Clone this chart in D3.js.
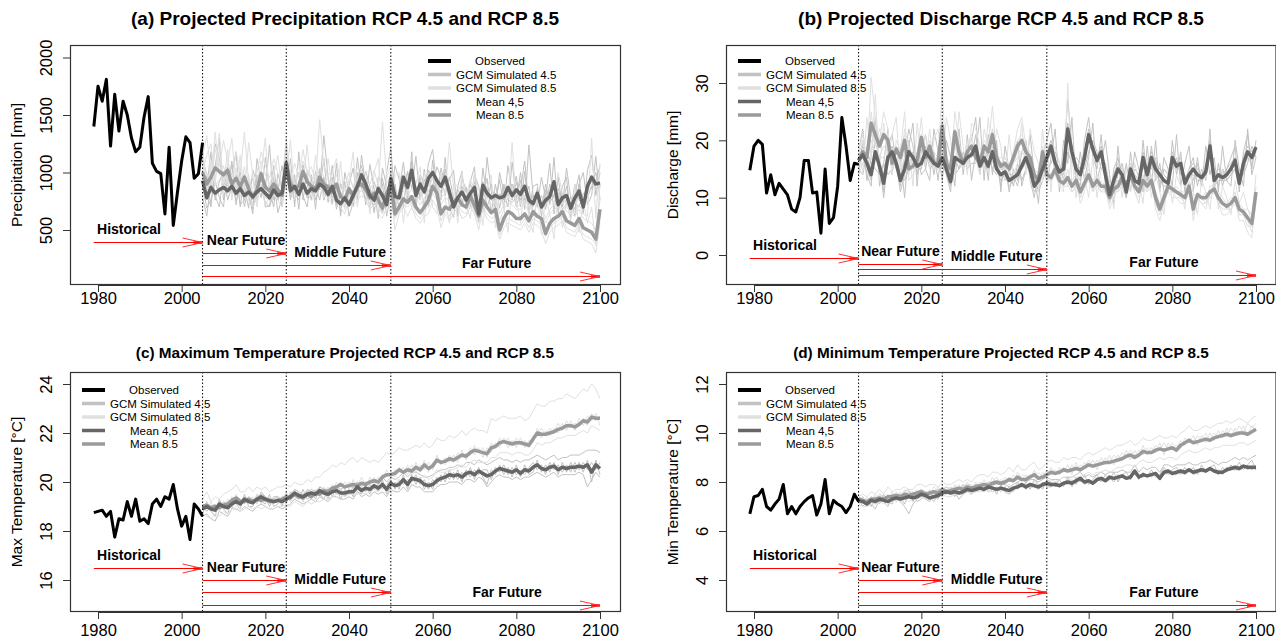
<!DOCTYPE html>
<html><head><meta charset="utf-8">
<script src="https://cdn.jsdelivr.net/npm/d3@7"></script>
<style>body{margin:0;background:#fff}svg{display:block}text{font-family:"Liberation Sans",Arial,sans-serif;fill:#000}</style>
</head><body><svg id="c" width="1276" height="642"></svg>
<script>
const obsYears = d3.range(1979, 2006);
const projYears = d3.range(2005, 2101);
const xTicks = [1980, 2000, 2020, 2040, 2060, 2080, 2100];
const periodBreaks = [2005, 2025, 2050];
const legendLabels = ["Observed", "GCM Simulated 4.5", "GCM Simulated 8.5", "Mean 4,5", "Mean 8.5"];
const periodLabels = ["Historical", "Near Future", "Middle Future", "Far Future"];
const periodStarts = [1979, 2005, 2005, 2005];
const periodEnds = [2005, 2025, 2050, 2100];

// ---------- (a) Precipitation [mm] ----------
const precipObs = [1400,1750,1620,1810,1230,1680,1360,1620,1500,1300,1180,1220,1480,1660,1080,1010,990,640,1220,540,830,1100,1310,1260,950,990,1260];
const precipMean45 = [930,780,870,820,850,870,840,880,820,860, 800,830,790,830,860,820,780,850,800,820, 1080,840,880,810,900,820,860,840,900,870, 810,880,760,730,780,720,800,880,980,900, 800,760,860,800,720,950,790,780,960,870, 1020,800,900,830,950,1000,930,880,960,830, 700,780,830,760,820,870,640,890,820,780, 800,780,790,870,800,850,810,880,760,730, 820,700,760,790,920,720,780,800,690,780, 840,700,880,960,900,910];
const precipMean85 = [1000,900,960,1040,1010,980,1020,900,950,880, 960,860,780,850,990,870,840,900,850,800, 1090,900,860,880,1010,920,880,860,960,900, 870,830,900,790,760,860,800,880,900,850, 780,820,760,690,820,900,640,700,770,740, 790,700,650,700,760,880,820,640,700,680, 740,780,720,700,800,710,620,760,700,650, 680,500,600,660,640,600,600,640,580,660, 620,600,470,560,600,620,660,580,560,540, 600,520,500,480,420,680];
const precipSim45_1 = [1050,870,1180,760,920,1010,830,1100,720,950, 880,690,1020,910,780,1130,850,700,990,860, 1250,790,980,680,1070,900,760,1010,850,1120, 740,960,680,830,700,890,1040,760,1150,880, 690,920,810,640,1000,1220,720,850,1090,780, 1180,700,950,820,1080,1200,870,760,1130,690, 610,880,1010,700,920,1050,560,1040,780,900, 730,940,690,1060,820,970,700,1010,640,880, 900,620,850,720,1130,650,880,960,600,820, 980,640,1020,1150,800,1000];
const precipSim45_2 = [880,690,760,930,780,700,1050,820,980,720, 760,940,680,820,1010,700,710,960,650,780, 960,900,750,920,800,700,980,680,1040,760, 900,780,850,650,920,620,740,1000,870,1010, 880,650,960,900,620,820,900,680,880,1000, 920,880,780,940,830,880,1050,960,800,960, 780,680,720,870,700,760,720,800,950,640, 900,690,880,760,740,780,930,760,880,620, 740,800,680,900,780,820,680,720,790,730, 700,820,780,880,1000,870];
const precipSim45_3 = [1000,960,820,1250,1130,890,940,1060,800,1020, 700,880,950,760,880,920,800,1060,760,870, 1120,760,930,1000,860,980,820,880,760,960, 780,1060,720,900,780,700,850,830,1000,720, 860,770,720,950,770,900,660,820,930,760, 1090,760,880,700,1020,950,840,980,920,880, 700,860,760,680,900,820,740,920,700,820, 820,760,900,800,900,700,850,1100,720,800, 780,680,900,740,800,860,720,880,680,900, 760,720,900,860,920,1060];
const precipSim45_4 = [780,620,920,800,700,1000,760,880,760,820, 860,780,710,980,850,740,700,820,900,700, 1000,880,820,760,920,780,900,920,1010,800, 820,830,780,700,790,760,700,960,1060,880, 760,720,900,780,700,1020,820,760,960,880, 1100,760,980,900,880,1000,920,820,1030,780, 720,760,880,780,820,920,680,840,880,760, 760,820,760,880,760,920,760,800,720,700, 860,720,700,820,900,700,820,720,740,680, 900,660,880,920,860,880];
const precipSim45_5 = [1120,980,700,1050,1300,760,920,990,1180,700, 980,820,640,1120,930,860,1240,760,840,1060, 860,1120,700,1180,760,1010,940,760,870,1320, 960,720,1080,620,1000,840,700,1130,860,760, 1070,860,600,1040,880,760,1060,940,700,1010, 860,1140,760,1030,700,1110,780,1040,880,940, 1020,620,940,860,720,980,880,660,1130,840, 680,1000,830,700,1090,760,1000,680,1240,800, 700,960,780,1080,640,960,700,1040,780,620, 900,1000,720,800,1140,760];
const precipSim85_1 = [1150,1320,980,1200,1050,1280,1100,880,1180,1000, 1350,920,860,1000,1180,1060,950,1120,1000,900, 1300,950,1080,960,1200,1000,1050,920,1460,1060, 980,1010,1120,900,880,1000,860,1050,1020,920, 900,1020,880,1440,950,1060,760,820,900,940, 980,820,760,1000,880,1020,960,780,820,1260, 860,900,820,800,940,840,760,880,820,760, 800,640,720,780,1260,700,720,800,700,780, 760,700,600,680,720,1000,820,700,660,640, 720,640,620,1300,600,1080];
const precipSim85_2 = [1250,820,1100,880,940,900,1200,760,1040,820, 1050,760,700,780,900,720,780,820,760,700, 1020,820,760,840,900,820,760,790,880,800, 780,720,820,700,640,780,700,760,800,760, 680,720,640,600,700,820,500,640,700,620, 700,600,560,620,640,760,700,520,640,580, 640,700,600,620,700,640,500,680,600,560, 580,420,520,560,540,520,500,560,480,560, 540,500,380,480,520,540,580,480,460,440, 520,420,400,380,300,560];
const precipSim85_3 = [900,1000,860,1350,980,1060,880,1000,860,940, 880,980,820,900,1100,980,900,1000,900,860, 1180,1000,940,960,1100,1020,960,940,1040,960, 940,900,980,860,840,940,880,960,980,920, 860,900,820,760,900,980,700,780,840,800, 860,780,720,780,840,960,900,720,780,760, 820,860,800,780,880,780,700,840,780,720, 760,580,680,740,720,680,680,720,660,740, 700,680,560,640,680,700,740,660,640,620, 680,600,580,560,500,760];
const precipSim85_4 = [1100,760,1000,900,1200,840,980,860,900,780, 920,800,720,760,880,780,760,800,820,740, 1000,840,800,820,940,860,820,800,900,860, 820,780,840,720,700,800,740,820,840,800, 720,760,700,640,760,860,600,660,720,700, 740,640,600,660,700,820,760,580,660,620, 680,720,660,640,740,660,560,700,640,600, 620,460,560,600,580,560,540,600,520,600, 580,540,440,520,560,580,620,520,500,480, 560,460,440,420,380,620];
const precipSim85_5 = [1000,1150,1250,940,1340,900,1080,1300,880,1150, 820,1260,980,700,1000,1300,760,980,1150,820, 960,1280,820,1100,880,1240,830,1150,900,780, 1120,880,760,1100,680,920,1180,700,960,1000, 640,1000,1120,700,880,600,980,1000,560,880, 700,900,1050,560,1000,700,640,1000,780,560, 900,560,1000,720,600,1000,800,540,860,980, 520,820,700,480,880,760,560,900,600,480, 800,460,780,640,420,840,520,760,580,900, 480,760,560,700,360,900];

// ---------- (b) Discharge [mm] ----------
const dischObs = [14.8,19,20,19.3,10.8,14,10.5,12.5,11.5,10.5,8,7.5,10,16.5,16.5,10.8,11,3.8,15,5.5,6.5,12,24,19,13,16,15.8];
const dischMean45 = [16.5,17.5,16,14,18,15.5,12.5,17,18,16, 13,15,18,17,15.5,16,18,17,16,15.5, 17,15,12.8,17,16.5,16,17,17.5,19,15.5, 17,15.5,18,15,14,14.5,13,13.5,14,15.5, 17,15,12,13,15,17,19,16,14.5,15, 22,18,15,14,17,21,18.5,16.5,18,14, 10.5,13,15,14,11,15,13,12.5,17,14, 17,15,14,13,12.5,17,15.5,16,12.5,14, 15,14,13.5,14.5,19,13,14,13.5,14,15, 16.5,12.5,16,18,17,18.8];
const dischMean85 = [16.5,18,17,23,21,19,21,20,16,18.5, 17,20,15,15.5,16.5,20.5,17,19,16,16, 22.5,16,15,21.5,18,16,18,19,17,16, 19,18,21,17,15.5,16,15,17,19,20, 18,17,14,13,18,14,13.5,15,13,12.5, 13.5,12,13,11,12.5,14,12,13,12,12, 10,11.5,12,13.5,12,14,12,11,13,12, 13,10,8,10,12,11.5,11,10.5,10,12, 8,10.5,10,10,11,11.5,10,9,8.5,9, 10,8,7.5,6.5,5.5,11];
const dischSim45_1 = [18,22,15,13,20,17,11,19,21,16, 12,17,22,19,14,18,21,16,18,13, 20,14,11,21,18,15,19,20,24,14, 19,13,22,16,12,16,11,15,13,18, 20,13,10,15,17,20,23,15,13,17, 27,19,13,12,20,24,17,15,21,12, 9,15,17,12,10,18,12,11,20,13, 19,13,16,11,11,20,14,18,11,15, 17,12,15,13,22,11,16,12,15,17, 19,11,18,21,15,20];
const dischSim45_2 = [15,14,18,16,15,14,16,14,15,17, 14,13,15,16,18,14,15,19,14,18, 15,17,15,14,15,18,15,16,16,17, 15,18,15,14,16,13,15,12,16,13, 15,17,14,11,13,15,16,18,16,13, 18,16,17,16,15,18,20,18,15,16, 12,11,14,16,12,13,15,14,15,16, 15,17,12,15,14,15,17,14,14,12, 13,16,12,16,17,15,12,15,13,14, 15,14,14,16,19,17];
const dischSim45_3 = [17,19,14,12,21,16,14,18,17,15, 15,16,20,15,16,17,16,18,17,15, 18,16,14,16,18,15,18,17,21,16, 18,16,19,15,15,15,14,14,12,16, 18,16,13,14,16,18,20,17,13,16, 23,18,16,15,18,22,19,17,19,15, 11,14,16,15,12,16,14,13,18,15, 18,16,15,14,13,18,16,17,13,15, 16,15,14,15,20,14,15,14,15,16, 17,13,17,19,18,19];
const dischSim45_4 = [16,17,17,15,17,16,10,17,19,16, 11,14,17,18,15,15,19,15,16,16, 16,14,12,17,15,16,16,18,17,15, 16,15,17,15,13,14,12,13,15,15, 16,14,11,12,14,16,18,15,15,14, 21,19,14,13,16,21,18,16,18,13, 10,12,13,13,10,14,12,12,16,12, 16,14,13,12,12,16,15,15,12,14, 14,13,13,14,18,12,13,13,13,14, 15,12,15,17,16,18];
const dischSim45_5 = [14,20,13,17,24,12,16,22,14,19, 17,10,19,23,12,21,15,13,22,18, 13,20,17,12,22,14,21,13,18,24, 13,21,14,20,11,19,15,17,20,12, 15,21,14,9,18,12,17,22,11,20, 16,24,12,18,13,17,23,13,16,20, 14,9,19,12,16,11,18,15,11,19, 12,20,11,17,15,12,21,12,16,19, 11,17,12,19,14,17,11,19,13,12, 20,15,12,22,14,17];
const dischSim85_1 = [18,21,16,31,24,20,25,22,14,20, 18,25,13,14,17,24,16,22,15,17, 29,15,13,25,20,15,19,21,17,14, 22,19,26,17,14,15,14,18,22,24, 19,18,12,11,22,14,13,16,12,11, 30,12,13,9,11,16,11,14,11,12, 8,10,12,15,11,16,11,9,14,11, 14,8,6,9,13,11,10,9,9,13, 6,10,9,8,11,12,9,7,7,8, 10,6,6,4,3,10];
const dischSim85_2 = [15,16,19,20,18,17,19,18,17,17, 16,18,16,16,16,19,18,17,17,15, 20,17,16,19,17,17,17,18,18,17, 17,17,19,17,17,17,16,16,18,18, 17,16,15,14,16,15,14,14,14,13, 13,13,14,12,13,13,13,12,13,12, 11,12,13,12,13,13,12,12,12,12, 12,11,9,11,11,11,12,11,11,11, 9,11,10,11,10,11,11,10,9,10, 10,9,8,8,7,10];
const dischSim85_3 = [17,20,15,25,19,22,20,21,18,16, 19,21,17,15,18,21,16,20,18,17, 24,17,16,22,19,16,20,20,16,17, 20,19,22,16,16,17,15,18,20,21, 19,17,14,12,19,15,14,15,13,12, 15,11,12,10,13,15,13,14,12,11, 9,12,11,14,12,15,12,11,14,12, 13,9,7,10,12,12,11,11,10,12, 7,11,10,9,12,12,10,9,8,9, 11,7,7,5,5,12];
const dischSim85_4 = [14,16,18,21,20,17,17,19,15,19, 15,17,14,17,15,18,17,17,15,15, 21,15,14,20,16,16,16,18,17,15, 18,17,20,16,15,15,14,16,17,18, 17,16,13,12,16,13,13,14,12,12, 12,11,12,10,12,13,11,12,11,11, 9,11,11,12,11,13,11,10,12,11, 12,9,8,9,11,10,10,10,9,11, 8,10,9,9,10,11,9,8,8,8, 9,7,7,6,4,9];
const dischSim85_5 = [20,14,24,17,28,15,23,17,21,24, 14,22,19,12,23,16,21,15,20,22, 16,24,20,14,25,19,14,23,22,19, 15,24,16,22,19,13,21,14,16,23, 14,22,18,16,13,20,11,19,16,15, 12,17,10,15,14,10,17,10,15,14, 13,8,16,10,15,11,16,13,9,17, 10,14,11,7,15,9,14,12,8,15, 11,7,13,11,8,14,8,12,10,7, 13,9,11,8,6,14];

// ---------- (c) Max temperature [°C] ----------
const tmaxObs = [18.75,18.8,18.85,18.6,18.8,17.75,18.5,18.45,19.2,18.6,19.3,18.4,18.5,18.3,19.1,19.3,19.0,19.4,19.3,19.9,18.9,18.2,18.6,17.65,19.1,18.9,18.6];
const tmaxMean45 = [18.9,19.0,18.9,18.85,19.1,19.0,18.95,19.1,19.2,19.1, 19.3,19.2,19.15,19.3,19.4,19.3,19.25,19.2,19.25,19.2, 19.3,19.4,19.55,19.45,19.4,19.5,19.55,19.5,19.65,19.55, 19.5,19.6,19.65,19.55,19.55,19.6,19.6,19.8,19.65,19.75, 19.7,19.85,19.75,19.9,19.7,19.95,19.85,19.9,20.1,19.9, 20.15,20.1,20.05,19.9,19.85,19.9,20.05,20.15,20.2,20.3, 20.25,20.3,20.2,20.35,20.4,20.3,20.45,20.35,20.25,20.3, 20.45,20.55,20.5,20.45,20.4,20.5,20.35,20.5,20.45,20.6, 20.7,20.55,20.5,20.6,20.65,20.5,20.6,20.55,20.6,20.6, 20.65,20.6,20.7,20.4,20.7,20.55];
const tmaxMean85 = [19.0,19.05,18.95,19.0,18.95,19.05,19.1,19.25,19.35,19.2, 19.2,19.3,19.2,19.3,19.25,19.3,19.2,19.2,19.25,19.3, 19.4,19.35,19.5,19.4,19.35,19.5,19.4,19.55,19.5,19.65, 19.6,19.75,19.8,19.9,19.8,19.85,19.9,19.85,19.95,19.9, 20.0,20.05,20.0,20.2,20.3,20.3,20.35,20.5,20.4,20.5, 20.45,20.6,20.5,20.7,20.55,20.65,20.9,20.8,20.85,20.95, 20.9,21.0,21.1,21.05,21.2,21.3,21.25,21.2,21.15,21.4, 21.45,21.6,21.65,21.6,21.55,21.6,21.6,21.55,21.5,21.75, 22.0,21.95,21.95,22.0,22.05,22.15,22.2,22.3,22.3,22.25, 22.35,22.5,22.45,22.65,22.6,22.6];
const tmaxSim45_1 = [18.7,19.2,18.8,18.6,19.3,18.9,18.7,19.3,19.1,18.9, 19.5,19.0,19.0,19.5,19.2,19.1,19.5,19.0,19.1,19.4, 19.1,19.6,19.4,19.3,19.7,19.3,19.4,19.7,19.5,19.3, 19.7,19.4,19.8,19.3,19.7,19.5,19.8,19.6,19.5,19.9, 19.5,19.9,19.6,20.1,19.5,19.8,20.0,19.7,20.3,19.7, 20.3,19.9,20.2,19.7,20.0,19.7,20.2,20.0,20.4,20.1, 20.4,20.1,20.4,20.2,20.6,20.1,20.6,20.2,19.9,20.5, 20.3,20.7,20.3,20.6,20.2,20.7,20.2,20.7,20.3,20.4, 20.9,20.4,20.7,20.4,20.8,20.3,20.8,20.4,20.8,20.4, 20.8,20.4,20.9,20.0,20.9,20.3];
const tmaxSim45_2 = [19.1,18.8,19.0,19.1,18.9,19.2,19.1,18.9,19.4,19.3, 19.1,19.4,19.3,19.1,19.6,19.4,19.0,19.4,19.4,19.0, 19.5,19.2,19.7,19.6,19.2,19.7,19.6,19.3,19.8,19.7, 19.3,19.8,19.5,19.7,19.4,19.7,19.4,20.0,19.8,19.6, 19.9,19.7,19.9,19.7,19.9,20.1,19.7,20.1,19.9,20.1, 20.0,20.3,19.9,20.1,19.7,20.1,19.9,20.3,20.0,20.5, 20.1,20.5,20.0,20.5,20.2,20.5,20.3,20.5,20.5,20.1, 20.6,20.4,20.7,20.3,20.6,20.3,20.5,20.3,20.6,20.8, 20.5,20.7,20.3,20.8,20.5,20.7,20.4,20.7,20.4,20.8, 20.5,20.8,20.5,20.8,20.5,20.8];
const tmaxSim45_3 = [19.0,19.1,19.0,18.9,19.2,19.1,19.0,19.2,19.3,19.2, 19.4,19.3,19.2,19.4,19.5,19.4,19.3,19.3,19.4,19.3, 19.4,19.5,19.7,19.6,19.5,19.6,19.7,19.6,19.8,19.7, 19.7,19.8,19.8,19.7,19.8,19.8,19.8,20.0,19.9,20.0, 20.0,20.1,20.0,20.2,20.0,20.2,20.1,20.2,20.4,20.2, 20.4,20.4,20.3,20.2,20.2,20.3,20.4,20.5,20.5,20.6, 20.6,20.7,20.6,20.8,20.8,20.7,20.9,20.8,20.7,20.8, 20.9,21.0,20.9,20.9,20.8,20.9,20.8,20.9,20.9,21.0, 21.1,21.0,20.9,21.0,21.1,20.9,21.0,21.0,21.1,21.1, 21.1,21.2,21.3,21.3,21.3,21.2];
const tmaxSim45_4 = [18.6,18.7,18.5,18.4,18.8,18.7,18.6,18.9,18.9,18.8, 19.0,18.9,18.8,19.0,19.1,19.0,18.9,18.9,19.0,18.9, 19.0,19.1,19.3,19.2,19.1,19.2,19.3,19.2,19.4,19.3, 19.2,19.4,19.4,19.3,19.3,19.4,19.3,19.6,19.4,19.5, 19.4,19.6,19.5,19.6,19.4,19.7,19.6,19.6,19.8,19.6, 19.9,19.8,19.8,19.6,19.6,19.6,19.8,19.9,19.9,20.0, 20.0,20.0,19.9,20.1,20.1,20.0,20.2,20.1,19.8,20.0, 20.2,20.3,20.2,20.2,20.1,20.2,20.1,20.2,20.2,20.3, 20.4,20.3,20.2,20.3,20.4,20.2,20.3,20.3,20.3,20.3, 20.4,20.3,19.8,20.1,20.4,20.2];
const tmaxSim85_1 = [19.3,19.6,19.2,19.4,19.3,19.5,19.6,19.7,19.9,19.6, 19.6,19.8,19.6,19.8,19.7,19.8,19.6,19.7,19.8,19.8, 19.9,19.8,20.0,19.9,19.9,20.1,20.0,20.2,20.2,20.4, 20.5,20.7,20.6,20.8,20.7,20.9,21.0,20.8,21.0,20.9, 20.8,20.9,20.8,21.0,21.2,21.1,21.2,21.4,21.3,21.3, 21.4,21.5,21.4,21.6,21.4,21.5,21.8,21.7,21.7,21.9, 21.8,21.9,22.1,21.9,22.1,22.2,22.1,22.1,22.0,22.6, 22.5,22.6,22.7,22.6,22.6,22.6,22.7,22.5,22.6,22.9, 23.2,23.1,23.1,23.3,23.3,23.4,23.4,23.6,23.5,23.4, 23.6,23.8,23.7,24.0,23.8,23.4];
const tmaxSim85_2 = [18.7,18.6,18.5,18.7,18.6,18.8,18.7,18.9,19.0,18.8, 18.9,19.0,18.9,19.0,18.9,19.0,18.9,18.9,19.0,19.0, 19.1,19.0,19.2,19.1,19.0,19.2,19.1,19.2,19.2,19.3, 19.3,19.4,19.5,19.5,19.4,19.5,19.5,19.5,19.6,19.5, 19.6,19.7,19.6,19.8,19.9,19.9,19.9,20.1,20.0,20.1, 20.0,20.2,20.1,20.3,20.1,20.2,20.5,20.4,20.4,20.5, 20.5,20.6,20.7,20.6,20.8,20.9,20.8,20.8,20.8,21.0, 21.0,21.2,21.2,21.2,21.1,21.2,21.2,21.1,21.1,21.3, 21.6,21.5,21.6,21.6,21.7,21.8,21.8,21.9,21.9,21.9, 22.0,22.1,22.0,22.3,22.2,22.1];
const tmaxSim85_3 = [19.1,18.9,19.2,18.8,19.1,18.9,19.3,19.1,19.5,19.1, 19.4,19.2,19.4,19.1,19.4,19.2,19.4,19.1,19.4,19.2, 19.6,19.2,19.7,19.3,19.5,19.4,19.6,19.4,19.7,19.5, 19.8,19.6,20.0,19.8,20.0,19.7,20.1,19.8,20.2,19.8, 20.2,19.9,20.2,20.1,20.5,20.2,20.5,20.4,20.6,20.3, 20.7,20.4,20.7,20.5,20.8,20.5,21.1,20.7,21.0,20.8, 21.1,20.8,21.3,20.9,21.4,21.1,21.4,21.0,21.4,21.2, 21.6,21.4,21.8,21.4,21.7,21.4,21.8,21.4,21.7,21.6, 22.2,21.8,22.1,21.9,22.2,22.0,22.4,22.1,22.5,22.1, 22.6,22.3,22.7,22.5,22.8,22.3];
const tmaxSim85_4 = [18.9,19.2,18.8,19.1,18.8,19.2,18.9,19.4,19.2,19.3, 19.1,19.4,19.1,19.5,19.1,19.4,19.1,19.3,19.1,19.4, 19.3,19.5,19.3,19.6,19.2,19.6,19.3,19.7,19.4,19.8, 19.5,19.9,19.7,20.0,19.7,20.0,19.8,19.9,19.8,20.0, 19.9,20.2,19.9,20.3,20.2,20.4,20.2,20.6,20.3,20.7, 20.3,20.8,20.4,20.9,20.4,20.8,20.8,20.9,20.7,21.1, 20.8,21.2,21.0,21.2,21.1,21.5,21.2,21.4,21.0,21.6, 21.4,21.8,21.6,21.8,21.5,21.8,21.5,21.7,21.4,21.9, 21.9,22.2,21.9,22.2,22.0,22.4,22.1,22.5,22.2,22.4, 22.3,22.6,22.3,22.8,22.5,22.7];

// ---------- (d) Min temperature [°C] ----------
const tminObs = [6.7,7.4,7.45,7.7,7.0,6.85,7.1,7.3,7.9,6.7,7.0,6.7,7.0,7.2,7.35,7.45,6.65,7.1,8.1,6.7,7.25,7.1,7.0,6.75,7.0,7.5,7.2];
const tminMean45 = [7.25,7.2,7.1,7.25,7.2,7.3,7.25,7.2,7.3,7.35, 7.3,7.35,7.4,7.35,7.4,7.5,7.45,7.35,7.4,7.45, 7.55,7.6,7.55,7.6,7.55,7.6,7.7,7.65,7.7,7.75, 7.7,7.8,7.75,7.7,7.75,7.7,7.65,7.75,7.8,7.9, 7.8,7.9,7.85,7.8,7.9,7.95,7.9,7.9,7.85,7.95, 8.0,7.95,8.05,8.15,8.0,8.05,7.95,8.1,8.15,8.05, 8.2,8.15,8.2,8.25,8.15,8.2,8.45,8.2,8.3,8.25, 8.3,8.35,8.15,8.4,8.45,8.35,8.4,8.45,8.4,8.5, 8.4,8.45,8.5,8.45,8.55,8.45,8.4,8.4,8.5,8.55, 8.6,8.55,8.65,8.6,8.6,8.6];
const tminMean85 = [7.3,7.25,7.2,7.3,7.3,7.35,7.3,7.4,7.4,7.45, 7.4,7.5,7.45,7.5,7.55,7.6,7.5,7.55,7.6,7.55, 7.7,7.6,7.65,7.7,7.75,7.7,7.8,7.75,7.8,7.85, 7.9,7.85,7.95,8.0,7.95,8.0,8.1,8.05,8.2,8.1, 8.1,8.2,8.3,8.15,8.2,8.3,8.4,8.35,8.4,8.5, 8.45,8.5,8.55,8.5,8.6,8.7,8.65,8.7,8.75,8.8, 8.8,8.85,8.9,8.95,9.05,9.1,9.0,9.1,9.25,9.2, 9.2,9.3,9.35,9.3,9.35,9.4,9.3,9.5,9.6,9.7, 9.6,9.65,9.7,9.75,9.7,9.8,9.85,9.9,9.95,9.9, 9.95,10.0,10.0,9.95,10.05,10.15];
const tminSim45_1 = [7.1,7.4,7.0,7.3,7.4,7.1,7.5,7.2,7.1,7.5, 7.3,7.6,7.7,7.2,7.5,7.6,7.3,7.2,7.6,7.3, 7.7,7.5,7.8,7.4,7.7,7.9,7.6,7.5,7.9,7.7, 7.6,8.0,7.9,7.5,7.9,7.6,7.8,7.6,8.0,7.8, 8.0,7.7,8.1,7.9,7.7,8.1,8.0,7.8,8.1,7.8, 8.2,7.8,8.2,8.0,8.3,7.9,8.1,8.3,8.0,8.3, 8.1,8.4,8.0,8.3,8.4,8.1,8.5,8.1,8.4,8.2, 8.5,8.2,8.3,8.6,8.3,8.5,8.6,8.3,8.6,8.4, 8.6,8.3,8.7,8.4,8.6,8.7,8.3,8.6,8.4,8.7, 8.5,8.8,8.5,8.7,8.9,8.5];
const tminSim45_2 = [7.3,7.0,7.2,7.1,6.9,7.3,7.2,7.0,7.4,7.2, 7.4,7.1,7.5,7.4,7.2,7.3,7.6,7.4,7.2,7.5, 7.4,7.7,7.5,7.6,7.3,7.5,7.7,7.8,7.6,7.7, 7.8,7.6,7.7,7.8,7.6,7.8,7.6,7.8,7.7,7.9, 7.7,7.9,7.8,7.7,8.0,7.8,7.8,8.0,7.9,8.0, 7.9,8.1,7.9,8.2,8.0,8.1,7.9,8.0,8.2,8.0, 8.2,8.0,8.3,8.2,8.1,8.3,8.3,8.2,8.2,8.3, 8.2,8.4,8.2,8.3,8.5,8.3,8.3,8.5,8.3,8.5, 8.4,8.5,8.4,8.5,8.5,8.4,8.5,8.3,8.6,8.5, 8.6,8.5,8.7,8.5,8.6,8.5];
const tminSim45_3 = [7.2,7.3,7.2,7.0,7.3,7.2,7.4,7.3,7.5,7.3, 7.2,7.0,6.7,7.1,7.3,7.4,7.3,7.5,7.4,7.3, 7.6,7.5,7.7,7.6,7.5,7.6,7.6,7.7,7.6,7.8, 7.7,7.7,7.6,7.7,7.8,7.6,7.5,7.7,7.8,7.8, 7.9,7.8,7.8,7.9,7.8,7.9,7.8,7.9,7.8,7.9, 8.0,8.0,8.1,8.1,7.9,8.0,8.0,8.1,8.1,8.0, 8.1,8.2,8.1,8.2,8.2,8.1,8.4,8.2,8.3,8.2, 8.3,8.3,8.1,8.3,8.4,8.3,8.4,8.4,8.3,8.5, 8.3,8.4,8.5,8.4,8.5,8.4,8.3,8.4,8.5,8.5, 8.5,8.5,8.6,8.6,8.5,8.6];
const tminSim45_4 = [7.4,7.3,7.2,7.4,7.3,7.5,7.4,7.3,7.5,7.5, 7.5,7.5,7.6,7.5,7.6,7.7,7.6,7.5,7.6,7.7, 7.7,7.8,7.7,7.8,7.7,7.8,7.9,7.8,7.9,7.9, 7.9,8.0,7.9,7.9,7.9,7.9,7.8,7.9,8.0,8.1, 8.0,8.1,8.1,8.0,8.1,8.2,8.1,8.1,8.1,8.2, 8.2,8.2,8.3,8.4,8.2,8.3,8.2,8.3,8.4,8.3, 8.4,8.4,8.4,8.5,8.4,8.4,8.7,8.4,8.6,8.5, 8.6,8.6,8.4,8.7,8.7,8.6,8.7,8.7,8.7,8.8, 8.7,8.7,8.8,8.8,8.9,8.8,8.7,8.8,8.8,8.9, 9.0,8.9,9.0,8.9,9.0,9.1];
const tminSim85_1 = [7.4,7.5,7.4,7.6,7.5,7.7,7.5,7.8,7.6,7.7, 7.7,7.8,7.7,7.7,7.9,7.9,7.8,7.9,7.9,7.8, 8.0,7.9,7.9,8.0,8.1,8.0,8.1,8.0,8.2,8.3, 8.3,8.2,8.4,8.4,8.3,8.4,8.6,8.4,8.7,8.5, 8.5,8.7,8.8,8.5,8.6,8.8,8.9,8.8,8.8,9.0, 8.9,9.0,9.0,8.9,9.1,9.2,9.1,9.2,9.3,9.4, 9.3,9.4,9.5,9.5,9.6,9.7,9.5,9.6,9.8,9.7, 9.7,9.8,9.9,9.8,9.8,9.9,9.8,10.0,10.1,10.3, 10.1,10.1,10.2,10.3,10.2,10.3,10.4,10.4,10.5,10.4, 10.5,10.6,10.5,10.4,10.6,10.7];
const tminSim85_2 = [7.1,7.0,7.0,7.1,7.1,7.2,7.1,7.2,7.2,7.3, 7.2,7.3,7.2,7.3,7.3,7.4,7.3,7.3,7.4,7.3, 7.5,7.4,7.4,7.5,7.5,7.5,7.6,7.5,7.6,7.6, 7.7,7.6,7.7,7.8,7.7,7.8,7.9,7.8,7.9,7.8, 7.8,7.9,8.0,7.9,7.9,8.0,8.1,8.0,8.1,8.2, 8.1,8.2,8.2,8.2,8.3,8.4,8.3,8.4,8.4,8.5, 8.4,8.5,8.6,8.6,8.7,8.7,8.6,8.8,8.9,8.8, 8.8,8.9,9.0,8.9,9.0,9.0,8.9,9.1,9.2,9.3, 9.2,9.2,9.3,9.4,9.3,9.4,9.4,9.5,9.5,9.5, 9.5,9.6,9.6,9.5,9.6,9.7];
const tminSim85_3 = [7.3,7.1,7.4,7.2,7.5,7.3,7.2,7.5,7.3,7.6, 7.3,7.7,7.4,7.5,7.7,7.5,7.4,7.7,7.5,7.8, 7.6,7.8,7.5,7.9,7.7,7.8,8.0,7.7,8.0,7.8, 8.1,7.8,8.2,7.9,8.1,8.0,8.2,8.0,8.4,8.1, 8.3,8.1,8.5,8.1,8.4,8.2,8.6,8.3,8.6,8.4, 8.7,8.3,8.8,8.4,8.8,8.6,8.9,8.5,9.0,8.7, 9.1,8.7,9.1,8.9,9.3,8.9,9.3,9.0,9.5,9.1, 9.4,9.2,9.6,9.1,9.6,9.3,9.5,9.4,9.8,9.6, 9.9,9.5,9.9,9.6,10.0,9.7,10.1,9.8,10.2,9.8, 10.2,9.9,10.3,9.9,10.3,10.1];
const tminSim85_4 = [7.2,7.4,7.1,7.3,7.2,7.5,7.4,7.3,7.6,7.4, 7.6,7.4,7.6,7.6,7.4,7.7,7.6,7.5,7.8,7.6, 7.8,7.6,7.8,7.7,7.9,7.6,7.9,7.9,7.7,8.0, 7.9,8.0,8.0,8.2,7.9,8.2,8.0,8.3,8.1,8.3, 8.2,8.3,8.2,8.4,8.2,8.5,8.3,8.5,8.3,8.6, 8.4,8.7,8.5,8.7,8.6,8.9,8.6,8.9,8.7,9.0, 8.8,9.1,8.9,9.2,9.0,9.3,9.1,9.3,9.1,9.4, 9.2,9.5,9.3,9.6,9.3,9.6,9.4,9.7,9.5,9.8, 9.6,9.9,9.7,10.0,9.7,10.0,9.8,10.1,9.9,10.2, 10.0,10.3,10.0,10.4,10.2,10.4];

// ---------- panel setup (built from the arrays above) ----------
const panels = [
  {title: "(a) Projected Precipitation RCP 4.5 and RCP 8.5", ylabel: "Precipitation [mm]",
   obs: precipObs, mean45: precipMean45, mean85: precipMean85,
   sim45: [precipSim45_1, precipSim45_2, precipSim45_3, precipSim45_4, precipSim45_5],
   sim85: [precipSim85_1, precipSim85_2, precipSim85_3, precipSim85_4, precipSim85_5],
   yTicks: [500, 1000, 1500, 2000], arrowLevels: [400, 300, 200, 100], labelYears: [1987.4, 2015.4, 2037.9, 2075.3],
   L: {x1980: 98, x2100: 600, left: 70, right: 621, top: 45, bottom: 285, yRef: [500, 230, 2000, 57.5],
       titleX: 345, titleY: 25, titleSize: 19, ylabX: 22, ytickX: 52, xtickY: 298, legX: 428, legY: 61}},
  {title: "(b) Projected Discharge RCP 4.5 and RCP 8.5", ylabel: "Discharge [mm]",
   obs: dischObs, mean45: dischMean45, mean85: dischMean85,
   sim45: [dischSim45_1, dischSim45_2, dischSim45_3, dischSim45_4, dischSim45_5],
   sim85: [dischSim85_1, dischSim85_2, dischSim85_3, dischSim85_4, dischSim85_5],
   yTicks: [0, 10, 20, 30], arrowLevels: [-0.5, -1.5, -2.5, -3.5], labelYears: [1987.4, 2015, 2038, 2078],
   L: {x1980: 754, x2100: 1256, left: 726, right: 1276.5, top: 45, bottom: 285, yRef: [0, 255, 30, 83],
       titleX: 1001, titleY: 25, titleSize: 19, ylabX: 678, ytickX: 708, xtickY: 298, legX: 738, legY: 61}},
  {title: "(c) Maximum Temperature Projected RCP 4.5 and RCP 8.5", ylabel: "Max Temperature [°C]",
   obs: tmaxObs, mean45: tmaxMean45, mean85: tmaxMean85,
   sim45: [tmaxSim45_1, tmaxSim45_2, tmaxSim45_3, tmaxSim45_4],
   sim85: [tmaxSim85_1, tmaxSim85_2, tmaxSim85_3, tmaxSim85_4],
   yTicks: [16, 18, 20, 22, 24], arrowLevels: [16.5, 16, 15.5, 15], labelYears: [1987.4, 2015.4, 2037.9, 2077.8],
   L: {x1980: 98, x2100: 600, left: 70, right: 621, top: 372, bottom: 612, yRef: [16, 580, 24, 384],
       titleX: 345, titleY: 358, titleSize: 15.3, ylabX: 22, ytickX: 52, xtickY: 630, legX: 82, legY: 390}},
  {title: "(d) Minimum Temperature Projected RCP 4.5 and RCP 8.5", ylabel: "Min Temperature [°C]",
   obs: tminObs, mean45: tminMean45, mean85: tminMean85,
   sim45: [tminSim45_1, tminSim45_2, tminSim45_3, tminSim45_4],
   sim85: [tminSim85_1, tminSim85_2, tminSim85_3, tminSim85_4],
   yTicks: [4, 6, 8, 10, 12], arrowLevels: [4.5, 4, 3.5, 3], labelYears: [1987.4, 2015, 2038, 2078],
   L: {x1980: 754, x2100: 1256, left: 726, right: 1276.5, top: 372, bottom: 612, yRef: [4, 580, 12, 384],
       titleX: 1001, titleY: 358, titleSize: 15.3, ylabX: 678, ytickX: 708, xtickY: 630, legX: 738, legY: 390}}
];

const colObs = "#000000", colSim45 = "#c2c2c2", colSim85 = "#e0e0e0", colMean45 = "#666666", colMean85 = "#9a9a9a";

// sanity check of series lengths
panels.forEach(p => {
  if (p.obs.length !== obsYears.length) throw new Error(p.title + " obs length " + p.obs.length);
  [p.mean45, p.mean85, ...p.sim45, ...p.sim85].forEach((s, i) => {
    if (s.length !== projYears.length) throw new Error(p.title + " series " + i + " length " + s.length);
  });
});

const svg = d3.select("#c");
const FONT = '"Liberation Sans",Arial,sans-serif';

panels.forEach(p => {
  const L = p.L;
  const x = d3.scaleLinear().domain([1980, 2100]).range([L.x1980, L.x2100]);
  const y = d3.scaleLinear().domain([L.yRef[0], L.yRef[2]]).range([L.yRef[1], L.yRef[3]]);
  const g = svg.append("g");
  const clipId = "clip" + L.left + "_" + L.top;
  svg.append("clipPath").attr("id", clipId).append("rect")
    .attr("x", L.left).attr("y", L.top).attr("width", L.right - L.left).attr("height", L.bottom - L.top);
  const plot = g.append("g").attr("clip-path", "url(#" + clipId + ")");

  const lineObs = d3.line().x((d, i) => x(obsYears[i])).y(d => y(d));
  const lineProj = d3.line().x((d, i) => x(projYears[i])).y(d => y(d));

  p.sim45.forEach(s => plot.append("path").attr("d", lineProj(s)).attr("fill", "none")
    .attr("stroke", colSim45).attr("stroke-width", 1).attr("stroke-linejoin", "round"));
  p.sim85.forEach(s => plot.append("path").attr("d", lineProj(s)).attr("fill", "none")
    .attr("stroke", colSim85).attr("stroke-width", 1).attr("stroke-linejoin", "round"));
  plot.append("path").attr("d", lineProj(p.mean85)).attr("fill", "none")
    .attr("stroke", colMean85).attr("stroke-width", 3.5).attr("stroke-linejoin", "round");
  plot.append("path").attr("d", lineProj(p.mean45)).attr("fill", "none")
    .attr("stroke", colMean45).attr("stroke-width", 3.5).attr("stroke-linejoin", "round");
  plot.append("path").attr("d", lineObs(p.obs)).attr("fill", "none")
    .attr("stroke", colObs).attr("stroke-width", 3).attr("stroke-linejoin", "round");

  // period separators
  periodBreaks.forEach(b => plot.append("line")
    .attr("x1", x(b)).attr("x2", x(b)).attr("y1", L.top).attr("y2", L.bottom)
    .attr("stroke", "#000").attr("stroke-width", 1).attr("stroke-dasharray", "1.5,2"));

  // period arrows
  periodLabels.forEach((lab, i) => {
    const yy = Math.round(y(p.arrowLevels[i])) + 0.5;
    const x0 = x(periodStarts[i]), x1 = x(periodEnds[i]);
    plot.append("line").attr("x1", x0).attr("x2", x1).attr("y1", yy).attr("y2", yy)
      .attr("stroke", "#ff0000").attr("stroke-width", 1);
    plot.append("line").attr("x1", x1 - 9).attr("x2", x1).attr("y1", yy).attr("y2", yy)
      .attr("stroke", "#ff0000").attr("stroke-width", 2.5);
    plot.append("path").attr("d", `M${x1 - 20},${yy - 4.5}L${x1},${yy}L${x1 - 20},${yy + 4.5}`)
      .attr("fill", "none").attr("stroke", "#ff3030").attr("stroke-width", 1);
    g.append("text").attr("x", x(p.labelYears[i])).attr("y", yy - 9)
      .attr("text-anchor", "middle").attr("font-weight", "bold").attr("font-size", 14)
      .attr("fill", "#1a1a2e").text(lab);
  });

  // box
  g.append("rect").attr("x", L.left + 0.5).attr("y", L.top + 0.5)
    .attr("width", L.right - L.left - 1).attr("height", L.bottom - L.top - 1)
    .attr("fill", "none").attr("stroke", "#333").attr("stroke-width", 1.2);

  // x axis
  const xa = g.append("g").attr("transform", `translate(0,${L.bottom})`)
    .call(d3.axisBottom(x).tickValues(xTicks).tickFormat(d3.format("d")).tickSizeOuter(0).tickSize(7));
  xa.select(".domain").attr("d", `M${x(1980)},0.5H${x(2100)}`).attr("stroke", "#333");
  xa.selectAll(".tick line").attr("stroke", "#333");
  xa.selectAll("text").attr("font-size", 16.5).attr("font-family", FONT).attr("fill", "#111")
    .attr("y", L.xtickY - L.bottom).attr("dy", "0.35em");

  // y axis
  const ya = g.append("g").attr("transform", `translate(${L.left},0)`)
    .call(d3.axisLeft(y).tickValues(p.yTicks).tickFormat(d3.format("d")).tickSizeOuter(0).tickSize(7));
  ya.select(".domain").attr("d", `M0.5,${y(p.yTicks[0])}V${y(p.yTicks[p.yTicks.length - 1])}`).attr("stroke", "#333");
  ya.selectAll(".tick line").attr("stroke", "#333");
  ya.selectAll("text").attr("font-size", 16.5).attr("font-family", FONT)
    .attr("fill", "#111").attr("text-anchor", "middle").attr("dy", null)
    .attr("transform", `translate(${L.ytickX - L.left},0) rotate(-90)`).attr("x", 0).attr("y", 0);

  // y label
  g.append("text").attr("transform", `translate(${L.ylabX},${(L.top + L.bottom) / 2}) rotate(-90)`)
    .attr("text-anchor", "middle").attr("font-size", 15.5).attr("fill", "#222").text(p.ylabel);

  // title
  g.append("text").attr("x", L.titleX).attr("y", L.titleY).attr("text-anchor", "middle")
    .attr("font-weight", "bold").attr("font-size", L.titleSize).attr("fill", "#111").text(p.title);

  // legend
  const legStyles = [[colObs, 4], [colSim45, 3.5], [colSim85, 3.5], [colMean45, 3.5], [colMean85, 3.5]];
  legendLabels.forEach((lab, i) => {
    const ly = L.legY + i * 13.5;
    g.append("line").attr("x1", L.legX).attr("x2", L.legX + 23).attr("y1", ly).attr("y2", ly)
      .attr("stroke", legStyles[i][0]).attr("stroke-width", legStyles[i][1]);
    const isGcm = lab.startsWith("GCM");
    g.append("text").attr("x", isGcm ? L.legX + 28 : L.legX + 72).attr("y", ly).attr("dy", "0.35em")
      .attr("text-anchor", isGcm ? "start" : "middle").attr("font-size", 11.5).attr("fill", "#1a1a2e").text(lab);
  });
});
</script></body></html>
